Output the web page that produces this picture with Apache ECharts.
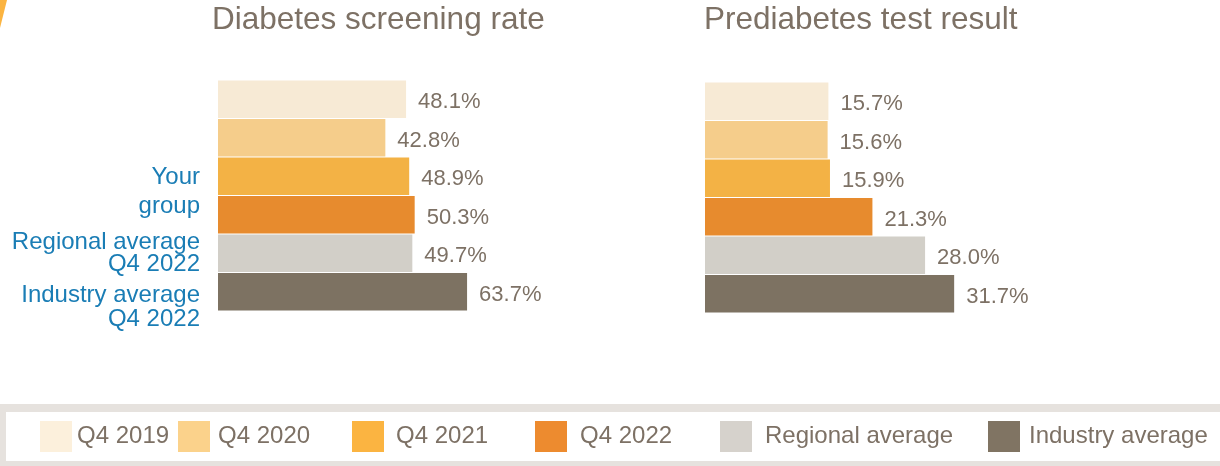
<!DOCTYPE html>
<html>
<head>
<meta charset="utf-8">
<script src="https://cdn.jsdelivr.net/npm/echarts@6/dist/echarts.min.js"></script>
<style>
    html, body { margin: 0; padding: 0; background: #fff; }
    #chart { width: 1220px; height: 466px; }
</style>
</head>
<body>
<div id="chart"></div>
<script>
var categories = ['Q4 2019', 'Q4 2020', 'Q4 2021', 'Q4 2022', 'Regional average', 'Industry average'];
var screening = [48.1, 42.8, 48.9, 50.3, 49.7, 63.7];
var prediabetes = [15.7, 15.6, 15.9, 21.3, 28.0, 31.7];
var titles = ['Diabetes screening rate', 'Prediabetes test result'];
var groupLabels = ['Your', 'group', 'Regional average', 'Q4 2022', 'Industry average', 'Q4 2022'];

var barColors = ['#f7ead5', '#f5cd8b', '#f3b245', '#e78b2e', '#d2cfc8', '#7d7262'];
var legendColors = ['#fcf0dc', '#fbd28b', '#fbb441', '#ed8b2f', '#d6d2cc', '#807463'];
var FONT = 'Liberation Sans, Arial, sans-serif';
var TEXT = '#7d7165';

var myChart = echarts.init(document.getElementById('chart'));

// one series per category, all overlapping in the same slot
function buildSeries(values, gridIdx) {
    var list = [];
    for (var i = 0; i < categories.length; i++) {
        var data = [];
        for (var j = 0; j < categories.length; j++) {
            data.push(j === i ? values[j] : '-');
        }
        list.push({
            name: categories[i],
            type: 'bar',
            xAxisIndex: gridIdx,
            yAxisIndex: gridIdx,
            barGap: '-100%',
            barCategoryGap: '3%',
            itemStyle: { color: barColors[i] },
            label: {
                show: true,
                position: 'right',
                distance: 12,
                offset: [0, 3],
                color: TEXT,
                fontFamily: FONT,
                fontSize: 22,
                formatter: function (p) { return p.value.toFixed(1) + '%'; }
            },
            silent: true,
            data: data
        });
    }
    return list;
}

var legendLeft = [40, 178, 352, 535, 720, 988];
var legendPad = [[3, 0, 0, 0], [3, 0, 0, 3], [7, 0, 0, 7], [-3, 0, 0, 8], [3, 0, 0, 8], [3, 0, 0, 4]];
var legends = [];
for (var k = 0; k < categories.length; k++) {
    legends.push({
        left: legendLeft[k],
        top: 421,
        padding: 0,
        icon: 'rect',
        itemWidth: 32,
        itemHeight: 31,
        selectedMode: false,
        textStyle: { color: TEXT, fontFamily: FONT, fontSize: 24, padding: legendPad[k] },
        data: [{ name: categories[k], itemStyle: { color: legendColors[k] } }]
    });
}

var graphics = [
    { type: 'polygon', shape: { points: [[0, 0], [7, 0], [0, 28]] }, style: { fill: '#fbb441' } },
    { type: 'rect', shape: { x: 0, y: 404, width: 1240, height: 70 }, style: { fill: '#e6e2de' } },
    { type: 'rect', shape: { x: 6, y: 412, width: 1240, height: 49 }, style: { fill: '#ffffff' } }
];
var labelY = [177, 206, 242, 264, 295, 319];
for (var m = 0; m < groupLabels.length; m++) {
    graphics.push({
        type: 'text',
        x: 200,
        y: labelY[m],
        style: {
            text: groupLabels[m],
            align: 'right',
            verticalAlign: 'middle',
            fill: '#1a7db5',
            font: '24px ' + FONT
        }
    });
}

var option = {
    animation: false,
    title: [
        { text: titles[0], left: 212, top: 4, padding: 0, textStyle: { color: TEXT, fontFamily: FONT, fontSize: 31.5, fontWeight: 'normal' } },
        { text: titles[1], left: 704, top: 4, padding: 0, textStyle: { color: TEXT, fontFamily: FONT, fontSize: 31.5, fontWeight: 'normal' } }
    ],
    legend: legends,
    grid: [
        { left: 218, top: 80, width: 391, height: 231 },
        { left: 705, top: 82, width: 393, height: 231 }
    ],
    xAxis: [
        { type: 'value', gridIndex: 0, min: 0, max: 100, show: false },
        { type: 'value', gridIndex: 1, min: 0, max: 50, show: false }
    ],
    yAxis: [
        { type: 'category', gridIndex: 0, inverse: true, data: categories, show: false },
        { type: 'category', gridIndex: 1, inverse: true, data: categories, show: false }
    ],
    graphic: graphics,
    series: buildSeries(screening, 0).concat(buildSeries(prediabetes, 1))
};
myChart.setOption(option);
</script>
</body>
</html>
